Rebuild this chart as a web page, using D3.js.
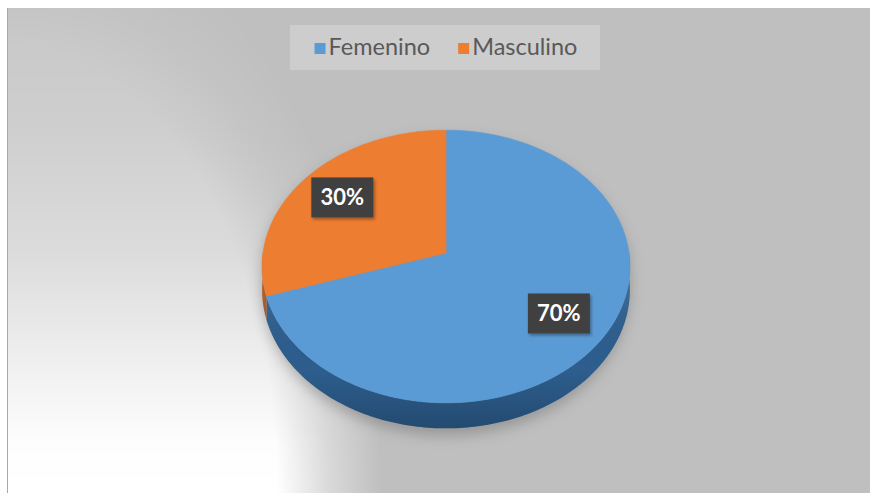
<!DOCTYPE html>
<html>
<head>
<meta charset="utf-8">
<script src="https://cdn.jsdelivr.net/npm/d3@7"></script>
<style>
  html, body { margin: 0; padding: 0; background: #ffffff; }
  svg { display: block; }
</style>
</head>
<body>
<svg id="chart" width="871" height="495"></svg>
<script>
// Gender split shown as a tilted 3D pie
const categories = ["Femenino", "Masculino"];
const values = [70, 30];
const valueLabels = ["70%", "30%"];
const topColors = ["#5b9bd5", "#ed7d31"];
const sideColors = ["#2d5e8e", "#a9541d"];

const W = 871, H = 495;
const svg = d3.select("#chart");
const defs = svg.append("defs");

// ---- chart area frame and background ----
const frame = { x: 7, y: 8, w: 863, h: 485 };

// light wash spreading from the lower-left corner
const rg = defs.append("radialGradient").attr("id", "cornerGrad")
  .attr("gradientUnits", "userSpaceOnUse")
  .attr("cx", 0).attr("cy", 0).attr("r", 1)
  .attr("gradientTransform", `translate(${frame.x},${frame.y + frame.h}) scale(375,620)`);
[[0, "#fff"], [0.72, "#fff"], [0.86, "#6a6a6a"], [1, "#000"]]
  .forEach(([o, c]) => rg.append("stop").attr("offset", o).attr("stop-color", c));

const vg = defs.append("linearGradient").attr("id", "vgrad")
  .attr("gradientUnits", "userSpaceOnUse")
  .attr("x1", 0).attr("y1", frame.y).attr("x2", 0).attr("y2", frame.y + frame.h);
[[0, 0.14], [0.25, 0.25], [0.5, 0.45], [0.75, 0.78], [0.9, 0.97], [1, 1]]
  .forEach(([o, a]) => vg.append("stop").attr("offset", o)
    .attr("stop-color", "#fff").attr("stop-opacity", a));

defs.append("mask").attr("id", "cornerMask")
  .attr("maskUnits", "userSpaceOnUse")
  .attr("x", 0).attr("y", 0).attr("width", W).attr("height", H)
  .append("rect").attr("x", 0).attr("y", 0).attr("width", W).attr("height", H)
  .attr("fill", "url(#cornerGrad)");

svg.append("rect")
  .attr("x", frame.x).attr("y", frame.y).attr("width", frame.w).attr("height", frame.h)
  .attr("fill", "#bfbfbf");
svg.append("g").attr("mask", "url(#cornerMask)")
  .append("rect")
  .attr("x", frame.x).attr("y", frame.y).attr("width", frame.w).attr("height", frame.h)
  .attr("fill", "url(#vgrad)");
svg.append("line")
  .attr("x1", frame.x + 0.5).attr("x2", frame.x + 0.5)
  .attr("y1", frame.y).attr("y2", frame.y + frame.h)
  .attr("stroke", "#a8a8a8").attr("stroke-width", 1);

// ---- 3D pie geometry ----
const cx = 446, cy = 253;      // apex of the pie on screen
const R = 183, Ry = 135;       // horizontal radius, vertical (tilted) radius
const persp = 0.099;           // perspective: far side shrinks, near side grows
const depth = 23;              // thickness of the disc

function project(theta, r = 1) {
  const k = 1 / (1 + persp * r * Math.cos(theta));
  return [cx + R * r * Math.sin(theta) * k, cy - Ry * r * Math.cos(theta) * k, k];
}
function samples(a0, a1) {
  const n = Math.max(2, Math.ceil((a1 - a0) / (Math.PI / 180)));
  return d3.range(n + 1).map(i => a0 + (a1 - a0) * i / n);
}

const pie = d3.pie().sort(null).value(d => d)(values);
const line = d3.line();

// soft shadow under the disc
defs.append("filter").attr("id", "pieShadow")
  .attr("x", "-20%").attr("y", "-20%").attr("width", "140%").attr("height", "140%")
  .append("feGaussianBlur").attr("stdDeviation", 7);

const outline = samples(0, 2 * Math.PI).map(t => {
  const p = project(t);
  const c = Math.cos(t);
  return [p[0], p[1] + (c < 0 ? depth * p[2] * (-c) ** 0.3 : 0)];
});
svg.append("path")
  .attr("d", line(outline.map(p => [p[0], p[1] + 7])) + "Z")
  .attr("fill", "#6e6e6e").attr("opacity", 0.5)
  .attr("filter", "url(#pieShadow)");

// side wall shading
const sg = defs.append("linearGradient").attr("id", "sideShade")
  .attr("gradientUnits", "userSpaceOnUse")
  .attr("x1", 0).attr("y1", 280).attr("x2", 0).attr("y2", 430);
[[0, "#ffffff", 0.10], [0.6, "#000000", 0.0], [1, "#000000", 0.22]]
  .forEach(([o, c, a]) => sg.append("stop").attr("offset", o)
    .attr("stop-color", c).attr("stop-opacity", a));

const gSide = svg.append("g");
pie.forEach((s, i) => {
  const a0 = Math.max(s.startAngle, Math.PI / 2);
  const a1 = Math.min(s.endAngle, 3 * Math.PI / 2);
  if (a0 >= a1) return;
  const top = samples(a0, a1).map(t => project(t));
  const bottom = top.slice().reverse().map(p => [p[0], p[1] + depth * p[2]]);
  const pts = top.map(p => [p[0], p[1]]).concat(bottom);
  gSide.append("path").attr("d", line(pts) + "Z").attr("fill", sideColors[i]);
  gSide.append("path").attr("d", line(pts) + "Z").attr("fill", "url(#sideShade)");
});

// top face slices
const gTop = svg.append("g");
pie.forEach((s, i) => {
  const pts = [[cx, cy]].concat(samples(s.startAngle, s.endAngle).map(t => project(t).slice(0, 2)));
  gTop.append("path").attr("d", line(pts) + "Z")
    .attr("fill", topColors[i])
    .attr("stroke", topColors[i]).attr("stroke-width", 0.6);
});

// ---- data labels ----
const lblShadow = defs.append("filter").attr("id", "lblShadow")
  .attr("x", "-30%").attr("y", "-30%").attr("width", "160%").attr("height", "160%");
lblShadow.append("feDropShadow").attr("dx", 1.5).attr("dy", 2).attr("stdDeviation", 1.5)
  .attr("flood-color", "#000").attr("flood-opacity", 0.35);

const gLbl = svg.append("g");
pie.forEach((s, i) => {
  const mid = (s.startAngle + s.endAngle) / 2;
  const [lx, ly] = project(mid, 0.73);
  const g = gLbl.append("g").attr("transform", `translate(${lx},${ly})`);
  g.append("rect").attr("x", -31).attr("y", -20).attr("width", 62).attr("height", 40)
    .attr("fill", "#404040").attr("filter", "url(#lblShadow)");
  g.append("text").attr("text-anchor", "middle").attr("dy", "0.36em")
    .attr("font-family", "Lato, 'Open Sans', sans-serif")
    .attr("font-weight", 700).attr("font-size", 22).attr("fill", "#ffffff")
    .text(valueLabels[i]);
});

// ---- legend ----
const legend = svg.append("g");
legend.append("rect").attr("x", 290).attr("y", 25).attr("width", 310).attr("height", 45)
  .attr("fill", "#ffffff").attr("opacity", 0.22);
const items = legend.selectAll("g.item").data(categories).join("g").attr("class", "item");
items.append("rect").attr("width", 11).attr("height", 11).attr("y", -12)
  .attr("fill", (d, i) => topColors[i]);
items.append("text").attr("x", 14)
  .attr("font-family", "Lato, 'Open Sans', sans-serif")
  .attr("font-size", 23.5).attr("fill", "#595959")
  .text(d => d);
const gap = 28;
const widths = items.nodes().map(n => n.getBBox().width);
const total = d3.sum(widths) + gap * (widths.length - 1);
let x0 = 446 - total / 2;
items.attr("transform", (d, i) => {
  const t = `translate(${x0},${55})`;
  x0 += widths[i] + gap;
  return t;
});
</script>
</body>
</html>
